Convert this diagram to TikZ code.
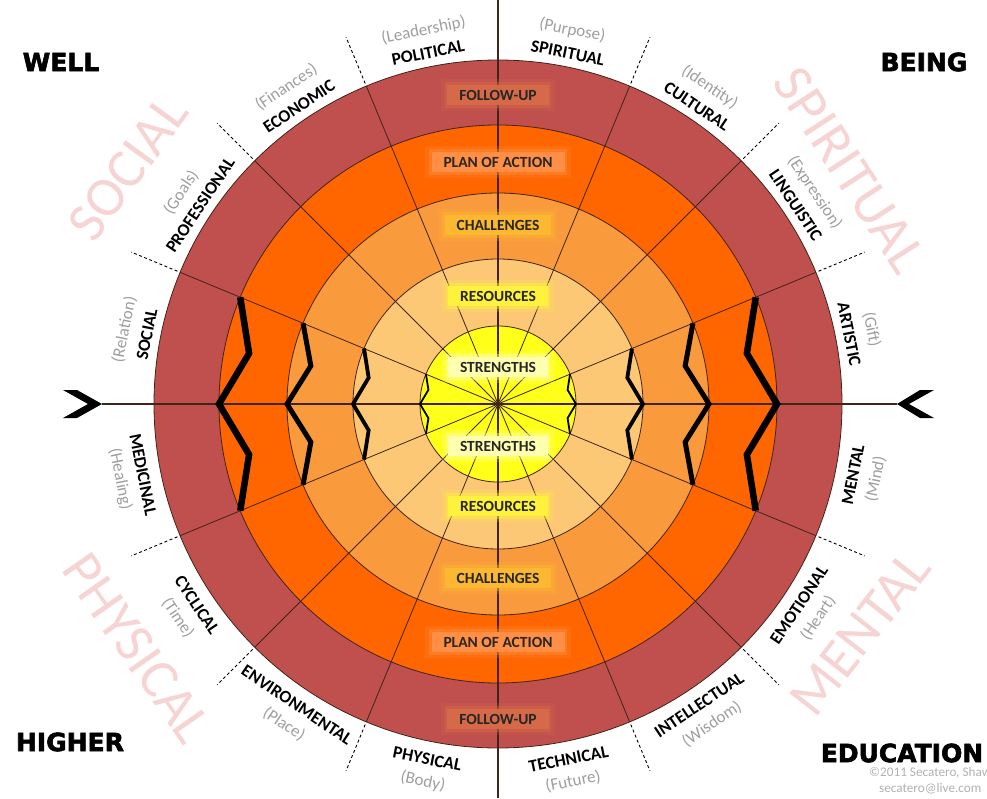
\documentclass[tikz,border=0pt]{standalone}
\usepackage{fontspec}
\setmainfont{Carlito}
\newfontfamily\heavyfont[FakeBold=2.5]{DejaVu Sans}

\definecolor{ringred}{HTML}{C0504D}
\definecolor{ringorange}{HTML}{FF6600}
\definecolor{ringamber}{HTML}{F99A3D}
\definecolor{ringpeach}{HTML}{FCC875}
\definecolor{coreyellow}{HTML}{FFFF1A}
\definecolor{boxred}{HTML}{D66A48}
\definecolor{boxorange}{HTML}{FF8F45}
\definecolor{boxamber}{HTML}{FCB830}
\definecolor{boxyellow}{HTML}{FFF23C}
\definecolor{boxpale}{HTML}{FFFFB0}
\definecolor{spoke}{HTML}{40241A}
\definecolor{faint}{HTML}{F7D4D4}
\definecolor{note}{HTML}{9E9E9E}

\tikzset{
  spokeline/.style={draw=spoke, line width=0.8pt},
  zigline/.style={black, line width=#1, line join=miter},
  divider/.style={black, line width=0.9pt, dash pattern=on 3pt off 2.5pt},
  sectorname/.style={font=\bfseries\fontsize{17.5}{18}\selectfont, text=black, inner sep=0pt},
  aspectlabel/.style={font=\fontsize{17}{18}\selectfont, text=note, inner sep=0pt},
  ringlabel/.style={font=\bfseries\fontsize{15.5}{16}\selectfont, text=black!85,
    inner xsep=12pt, inner ysep=5pt, fill=#1, draw=#1, draw opacity=0.4, line width=5pt,
    preaction={draw=#1, draw opacity=0.2, line width=12pt}},
  cornerword/.style={font=\heavyfont\bfseries\fontsize{25}{26}\selectfont, inner sep=0pt},
  watermark/.style={font=\fontsize{56}{56}\selectfont, text=faint, inner sep=0pt},
  credit/.style={font=\fontsize{13.2}{14}\selectfont, text=note!80, inner sep=0pt, anchor=west},
}

\begin{document}
\begin{tikzpicture}[x=1pt, y=1pt]
\useasboundingbox (-498,-394) rectangle (489,404);
\clip (-498,-394) rectangle (489,404);

%faint words behind the wheel:
\node[watermark, rotate=54] (wmsocial) at (-370,236) {SOCIAL};
\node[watermark, rotate=-57] (wmspiritual) at (352,234) {SPIRITUAL};
\node[watermark, rotate=-55] (wmphysical) at (-361,-244) {PHYSICAL};
\node[watermark, rotate=52] (wmmental) at (362,-229) {MENTAL};

%rings:
\fill[ringred] (0,0) circle (344);
\fill[ringorange] (0,0) circle (279);
\fill[ringamber] (0,0) circle (211);
\fill[ringpeach] (0,0) circle (145);
\fill[coreyellow] (0,0) circle (78);

%spokes and axes:
\foreach \a in {22.5,45,...,337.5}
  \draw[spokeline] (0,0) -- (\a:344);
\draw[spokeline, line width=1.1pt] (0,404) -- (0,-394);
\draw[spokeline, line width=1.1pt] (-396,0) -- (399,0);

%ring borders:
\foreach \r in {78,145,211,279,344}
  \draw[spokeline] (0,0) circle (\r);

%zigzags on both sides:
\foreach \ro/\dr/\w in {279/25/6.5pt, 211/20/5pt, 145/13/3.8pt, 78/7/1.8pt} {
  \pgfmathsetmacro\rk{\ro-\dr}
  \draw[zigline=\w] (157.5:\ro) -- (168.5:\rk) -- (180:\ro) -- (191.5:\rk) -- (202.5:\ro);
  \draw[zigline=\w] (22.5:\ro) -- (11.5:\rk) -- (0:\ro) -- (-11.5:\rk) -- (-22.5:\ro);
}

%heads at the ends of the axis:
\fill (-435,14) -- (-421,14) -- (-396,0) -- (-421,-14) -- (-435,-14) -- (-410,0) -- cycle;
\fill (436,14) -- (422,14) -- (399,0) -- (422,-14) -- (436,-14) -- (411,0) -- cycle;

%ring labels:
\foreach \y/\txt/\col [count=\i] in {309/FOLLOW-UP/boxred, 242/PLAN OF ACTION/boxorange,
    179/CHALLENGES/boxamber, 108/RESOURCES/boxyellow, 37/STRENGTHS/boxpale,
    -42/STRENGTHS/boxpale, -102/RESOURCES/boxyellow, -174/CHALLENGES/boxamber,
    -238/PLAN OF ACTION/boxorange, -315/FOLLOW-UP/boxred}
  \node[ringlabel=\col] (rl\i) at (0,\y) {\txt};

%dividers between sectors:
\foreach \a in {22.5,45,67.5,112.5,135,157.5,202.5,225,247.5,292.5,315,337.5}
  \draw[divider] (\a:347) -- (\a:397);

%sector names, upper half:
\foreach \a/\nm/\asp [count=\i] in {101.25/POLITICAL/Leadership, 78.75/SPIRITUAL/Purpose,
    56.25/CULTURAL/Identity, 33.75/LINGUISTIC/Expression, 11.25/ARTISTIC/Gift,
    168.75/SOCIAL/Relation, 146.25/PROFESSIONAL/Goals, 123.75/ECONOMIC/Finances} {
  \node[sectorname, rotate=\a-90] (up\i) at (\a:358) {\nm};
  \node[aspectlabel, rotate=\a-90] (upasp\i) at (\a:381) {(\asp)};
}
%sector names, lower half:
\foreach \a/\nm/\asp [count=\i] in {-11.25/MENTAL/Mind, -33.75/EMOTIONAL/Heart,
    -56.25/INTELLECTUAL/Wisdom, -78.75/TECHNICAL/Future, -101.25/PHYSICAL/Body,
    -123.75/ENVIRONMENTAL/Place, -146.25/CYCLICAL/Time, -168.75/MEDICINAL/Healing} {
  \node[sectorname, rotate=\a+90] (lo\i) at (\a:362) {\nm};
  \node[aspectlabel, rotate=\a+90] (loasp\i) at (\a:385) {(\asp)};
}

%corner words:
\node[cornerword] (well) at (-437,342) {WELL};
\node[cornerword] (being) at (426,342) {BEING};
\node[cornerword] (higher) at (-428,-338) {HIGHER};
\node[cornerword] (education) at (404,-349) {EDUCATION};

%credit:
\node[credit] (copy) at (371,-369) {©2011 Secatero, Shawn};
\node[credit] (mail) at (381,-385) {secatero@live.com};
\end{tikzpicture}
\end{document}
